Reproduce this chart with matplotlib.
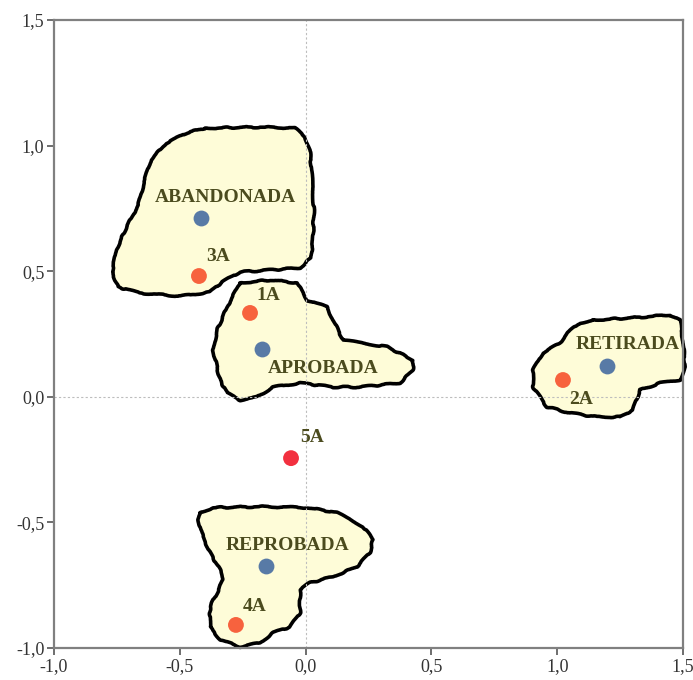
import matplotlib.pyplot as plt
from matplotlib.patches import Polygon
from matplotlib.ticker import FuncFormatter

plt.rcParams['axes.unicode_minus'] = False

# category points (blue) and group points (red)
cat_names = ['ABANDONADA', 'APROBADA', 'RETIRADA', 'REPROBADA']
cat_x = [-0.416, -0.173, 1.198, -0.157]
cat_y = [0.712, 0.190, 0.123, -0.674]

grp_names = ['1A', '2A', '3A', '4A', '5A']
grp_x = [-0.221, 1.023, -0.424, -0.277, -0.058]
grp_y = [0.334, 0.067, 0.481, -0.908, -0.244]
grp_colors = ['#f7623e', '#f7623e', '#f7623e', '#f7623e', '#f2303f']

# where each label sits
cat_label_xy = [(-0.32, 0.795), (0.069, 0.111), (1.281, 0.207), (-0.07, -0.59)]
grp_label_xy = [(-0.149, 0.405), (1.094, -0.009), (-0.348, 0.557), (-0.201, -0.836), (0.025, -0.163)]

# hand-drawn cluster outlines
blob_abandonada = [(-0.400, 1.070), (-0.181, 1.074), (-0.042, 1.070), (-0.002, 1.034), (0.017, 0.983),
                   (0.025, 0.883), (0.033, 0.744), (0.029, 0.624), (0.021, 0.553), (-0.022, 0.513),
                   (-0.141, 0.505), (-0.261, 0.497), (-0.332, 0.457), (-0.380, 0.417), (-0.499, 0.401),
                   (-0.658, 0.413), (-0.746, 0.437), (-0.769, 0.497), (-0.753, 0.584), (-0.714, 0.672),
                   (-0.665, 0.764), (-0.640, 0.863), (-0.615, 0.943), (-0.555, 1.010), (-0.470, 1.052)]
blob_aprobada = [(-0.261, 0.454), (-0.141, 0.465), (-0.034, 0.454), (0.006, 0.385), (0.085, 0.358),
                 (0.109, 0.306), (0.149, 0.226), (0.324, 0.199), (0.427, 0.147), (0.427, 0.107),
                 (0.375, 0.055), (0.216, 0.039), (0.109, 0.039), (-0.022, 0.055), (-0.130, 0.039),
                 (-0.193, -0.001), (-0.261, -0.013), (-0.312, 0.015), (-0.340, 0.066), (-0.368, 0.186),
                 (-0.352, 0.266), (-0.312, 0.358)]
blob_retirada = [(1.142, 0.306), (1.290, 0.314), (1.449, 0.326), (1.488, 0.306), (1.500, 0.226),
                 (1.508, 0.119), (1.488, 0.067), (1.409, 0.055), (1.329, 0.027), (1.301, -0.052),
                 (1.250, -0.080), (1.158, -0.080), (1.050, -0.064), (0.959, -0.040), (0.904, 0.039),
                 (0.904, 0.107), (0.943, 0.175), (1.011, 0.214), (1.039, 0.254), (1.090, 0.294)]
blob_reprobada = [(-0.420, -0.461), (-0.368, -0.441), (-0.181, -0.437), (0.006, -0.441), (0.125, -0.461),
                  (0.228, -0.516), (0.268, -0.568), (0.256, -0.620), (0.204, -0.676), (0.109, -0.716),
                  (0.017, -0.740), (-0.022, -0.768), (-0.022, -0.860), (-0.062, -0.916), (-0.129, -0.939),
                  (-0.181, -0.979), (-0.261, -0.995), (-0.340, -0.967), (-0.380, -0.916), (-0.380, -0.836),
                  (-0.352, -0.780), (-0.328, -0.728), (-0.340, -0.689), (-0.380, -0.621), (-0.408, -0.557),
                  (-0.427, -0.489)]
blobs = [blob_abandonada, blob_aprobada, blob_retirada, blob_reprobada]

fig = plt.figure(figsize=(6.93, 6.80), dpi=100)
ax = fig.add_axes([0.078, 0.047, 0.9075, 0.9235])

for pts in blobs:
    p = Polygon(pts, closed=True, facecolor='#fefcd8', edgecolor='black', lw=2.6,
                joinstyle='round', zorder=1, clip_on=False)
    p.set_sketch_params(scale=0.7, length=40, randomness=6)
    ax.add_patch(p)

ax.axhline(0, color='#bdbdbd', lw=0.8, ls=(0, (2, 2)), zorder=1.5)
ax.axvline(0, color='#bdbdbd', lw=0.8, ls=(0, (2, 2)), zorder=1.5)

ax.scatter(cat_x, cat_y, s=130, color='#587aa6', zorder=3, linewidths=0)
ax.scatter(grp_x, grp_y, s=130, color=grp_colors, zorder=3, linewidths=0)

lab_font = dict(family='Liberation Serif', fontsize=14, fontweight='bold', color='#4b4b1e',
                ha='center', va='center', zorder=4)
for name, (tx, ty) in zip(cat_names, cat_label_xy):
    ax.text(tx, ty, name, **lab_font)
for name, (tx, ty) in zip(grp_names, grp_label_xy):
    ax.text(tx, ty, name, **lab_font)

ax.set_xlim(-1.0, 1.5)
ax.set_ylim(-1.0, 1.5)
ticks = [-1.0, -0.5, 0.0, 0.5, 1.0, 1.5]
ax.set_xticks(ticks)
ax.set_yticks(ticks)
fmt = FuncFormatter(lambda v, pos: ('%.1f' % v).replace('.', ','))
ax.xaxis.set_major_formatter(fmt)
ax.yaxis.set_major_formatter(fmt)
for lbl in ax.get_xticklabels() + ax.get_yticklabels():
    lbl.set_family('Liberation Serif')
    lbl.set_fontsize(13)
    lbl.set_color('#333333')
ax.tick_params(direction='out', length=5, width=1.2, color='#555555', pad=2)
for sp in ax.spines.values():
    sp.set_color('#808080')
    sp.set_linewidth(1.6)

fig.savefig('out.png', dpi=100)
